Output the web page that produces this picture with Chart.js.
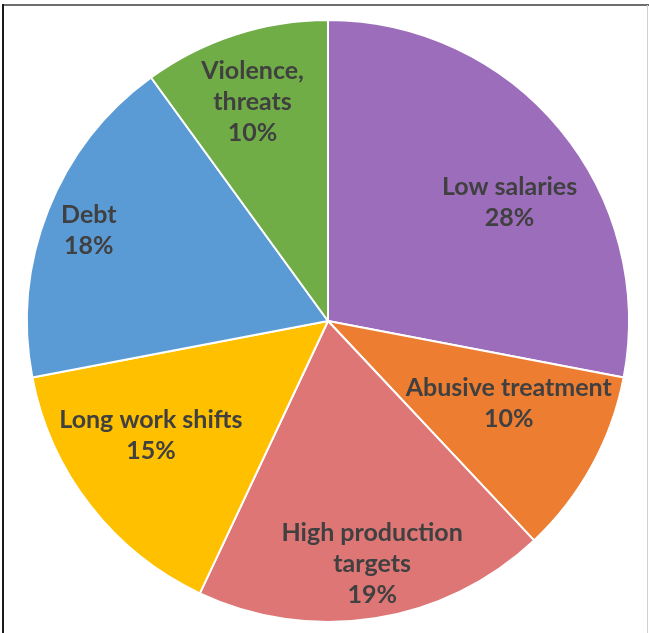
<!DOCTYPE html>
<html>
<head>
<meta charset="utf-8">
<script src="https://cdn.jsdelivr.net/npm/chart.js@4/dist/chart.umd.min.js"></script>
<style>
  html, body { margin: 0; padding: 0; background: #ffffff; }
  #wrap { position: relative; width: 649px; height: 633px; }
</style>
</head>
<body>
<div id="wrap"><canvas id="c" width="649" height="633"></canvas></div>
<script>
// ---- data ----
const categories = [
  ["Low salaries"],
  ["Abusive treatment"],
  ["High production", "targets"],
  ["Long work shifts"],
  ["Debt"],
  ["Violence,", "threats"]
];
const shares = [28, 10, 19, 15, 18, 10];
const percentLabels = ["28%", "10%", "19%", "15%", "18%", "10%"];

// ---- styling ----
const sliceColors = ["#9B6DBA", "#ED7D31", "#DE7676", "#FFC000", "#5B9BD5", "#70AD47"];
// label placement: fraction of radius, and angular tweak in degrees
const labelRadius = [0.72, 0.66, 0.82, 0.70, 0.85, 0.77];
const labelAngleShift = [6.5, -4.3, -1.3, 5.0, -0.8, -1.0];

const frame = {
  id: 'frame',
  afterDraw(chart) {
    const ctx = chart.ctx;
    ctx.save();
    ctx.fillStyle = '#6e6e6e';
    ctx.fillRect(2, 4, 647, 2);
    ctx.fillStyle = '#1a1a1a';
    ctx.fillRect(2, 4, 2, 629);
    ctx.fillStyle = '#d0d0d0';
    ctx.fillRect(647, 5, 1, 628);
    ctx.restore();
  }
};

const sliceLabels = {
  id: 'sliceLabels',
  afterDatasetsDraw(chart) {
    const ctx = chart.ctx;
    const meta = chart.getDatasetMeta(0);
    ctx.save();
    ctx.fillStyle = '#404040';
    ctx.font = 'bold 25px Lato, "Open Sans", sans-serif';
    ctx.textAlign = 'center';
    ctx.textBaseline = 'middle';
    const lh = 31;
    meta.data.forEach((arc, i) => {
      const p = arc.getProps(['x', 'y', 'startAngle', 'endAngle', 'outerRadius'], true);
      const mid = (p.startAngle + p.endAngle) / 2 + labelAngleShift[i] * Math.PI / 180;
      const r = p.outerRadius * labelRadius[i];
      const cx = p.x + Math.cos(mid) * r;
      const cy = p.y + Math.sin(mid) * r;
      const lines = categories[i].concat([percentLabels[i]]);
      const top = cy - (lines.length - 1) * lh / 2;
      lines.forEach((t, k) => ctx.fillText(t, cx, top + k * lh));
    });
    ctx.restore();
  }
};

new Chart(document.getElementById('c'), {
  type: 'pie',
  data: {
    labels: categories,
    datasets: [{
      data: shares,
      backgroundColor: sliceColors,
      borderColor: '#ffffff',
      borderWidth: 2,
      radius: 301
    }]
  },
  options: {
    responsive: false,
    animation: false,
    layout: { padding: { left: 7, right: 0, top: 9, bottom: 0 } },
    plugins: {
      legend: { display: false },
      tooltip: { enabled: false }
    }
  },
  plugins: [sliceLabels, frame]
});
</script>
</body>
</html>
